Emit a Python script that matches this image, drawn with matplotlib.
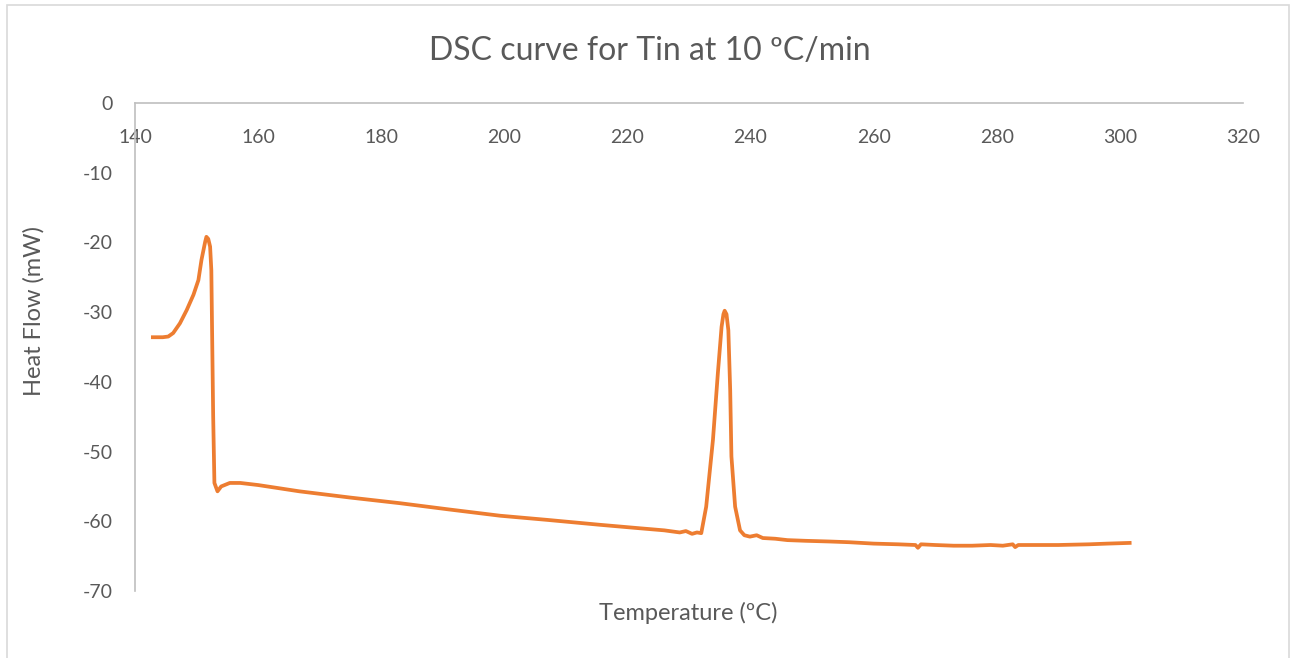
import matplotlib
matplotlib.use('Agg')
import matplotlib.pyplot as plt
from matplotlib.patches import Rectangle

plt.rcParams['font.family'] = ['Lato', 'DejaVu Sans']
plt.rcParams['axes.unicode_minus'] = False

# DSC curve
temp = [142.9, 144.5, 145.4, 146.2, 147.3, 148.4, 149.5, 150.3, 150.8, 151.4,
        151.6, 151.9, 152.2, 152.4, 152.5, 152.7, 152.9, 153.4, 154.0, 155.4,
        157.1, 160.0, 166.7, 175.0, 183.0, 191.0, 199.3, 207.0, 215.5, 222.0,
        226.0, 228.5, 229.5, 230.5, 231.3, 232.0, 232.8, 233.9, 234.7, 235.3,
        235.6, 235.8, 236.1, 236.4, 236.7, 236.9, 237.5, 238.3, 239.0, 239.9,
        241.0, 242.0, 244.0, 246.0, 249.0, 252.9, 256.0, 260.0, 264.0, 266.8,
        267.2, 267.7, 270.0, 273.0, 276.0, 279.0, 281.0, 282.6, 283.0, 283.5,
        286.0, 290.0, 295.0, 298.0, 301.6]
heat_flow = [-33.6, -33.6, -33.5, -33.0, -31.6, -29.7, -27.5, -25.4, -22.5, -19.9,
             -19.2, -19.5, -20.6, -24.0, -31.1, -45.0, -54.5, -55.7, -55.0, -54.5,
             -54.5, -54.8, -55.7, -56.6, -57.4, -58.3, -59.2, -59.8, -60.5, -61.0,
             -61.3, -61.6, -61.4, -61.8, -61.6, -61.7, -57.9, -48.3, -38.7, -32.1,
             -30.3, -29.8, -30.3, -32.6, -41.2, -50.7, -57.9, -61.3, -62.0, -62.2,
             -62.0, -62.4, -62.5, -62.7, -62.8, -62.9, -63.0, -63.2, -63.3, -63.4,
             -63.8, -63.3, -63.4, -63.5, -63.5, -63.4, -63.5, -63.3, -63.7, -63.4,
             -63.4, -63.4, -63.3, -63.2, -63.1]

x_ticks = [140, 160, 180, 200, 220, 240, 260, 280, 300, 320]
y_ticks = [0, -10, -20, -30, -40, -50, -60, -70]

grey = '#595959'

fig = plt.figure(figsize=(12.92, 6.58), dpi=100)
ax = fig.add_axes([0.1045, 0.1018, 0.8575, 0.7417])

ax.plot(temp, heat_flow, color='#ED7D31', linewidth=2.7)

ax.set_xlim(140, 320)
ax.set_ylim(-70, 0)
ax.set_xticks(x_ticks)
ax.set_yticks(y_ticks)

# x axis sits on y=0, at the top of the plot
ax.spines['bottom'].set_position(('data', 0))
ax.spines['right'].set_visible(False)
ax.spines['top'].set_visible(False)
for s in ['bottom', 'left']:
    ax.spines[s].set_color('#bfbfbf')
    ax.spines[s].set_linewidth(1.2)

ax.tick_params(axis='x', length=0, pad=19, labelsize=14, labelcolor=grey)
ax.tick_params(axis='y', length=0, pad=16, labelsize=14, labelcolor=grey)

fig.text(0.503, 0.923, 'DSC curve for Tin at 10 ºC/min', fontsize=23, color=grey,
         ha='center', va='center')
fig.text(0.533, 0.069, 'Temperature (ºC)', fontsize=17, color=grey,
         ha='center', va='center')
fig.text(0.026, 0.527, 'Heat Flow (mW)', fontsize=17, color=grey,
         ha='center', va='center', rotation=90)

# light frame round the chart area
fig.patches.append(Rectangle((0.0055, -0.01), 0.992, 1.002, transform=fig.transFigure,
                             fill=False, edgecolor='#d9d9d9', linewidth=1.2))

fig.savefig('out.png', dpi=100)
